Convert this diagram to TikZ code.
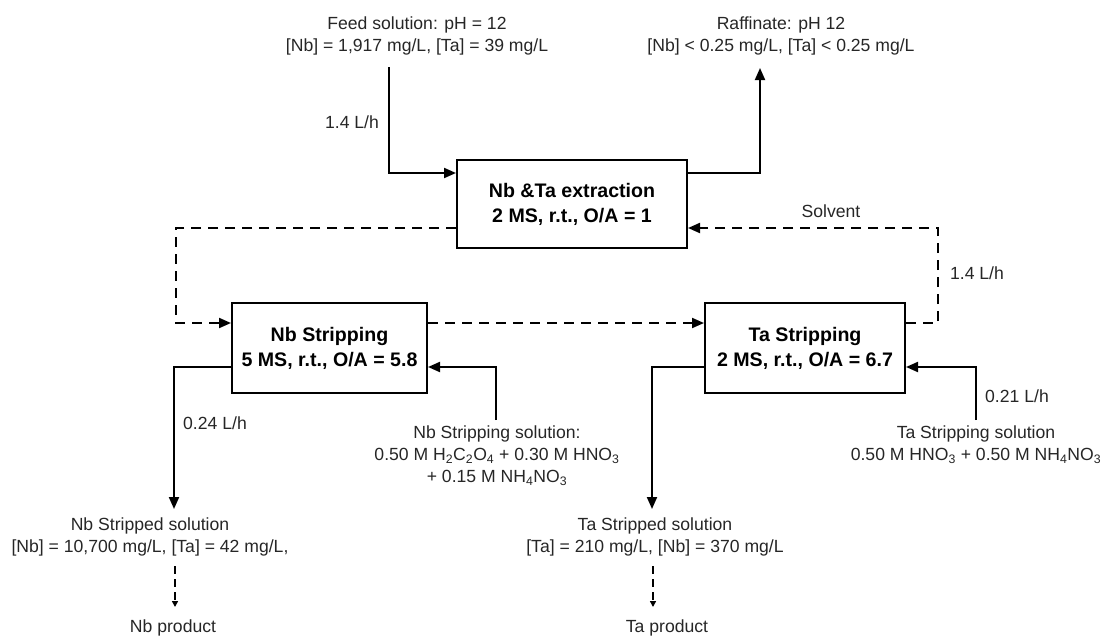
\documentclass[tikz,border=0pt]{standalone}
\usepackage{fontspec}
\setmainfont{Liberation Sans}
\usetikzlibrary{arrows.meta}
\tikzset{
  lbl/.style={inner sep=0pt, align=center, font=\fontsize{17.6}{22}\selectfont, text=black!85},
  procbox/.style={draw, line width=2pt, align=center, inner sep=0pt, font=\fontsize{19.6}{25}\selectfont\bfseries},
  flow/.style={line width=2pt, -{Triangle[length=12pt,width=10pt]}},
  dflow/.style={line width=2pt, dash pattern=on 10pt off 7pt, -{Triangle[length=12pt,width=10pt]}},
  pflow/.style={line width=2pt, dash pattern=on 8pt off 5pt, -{Triangle[length=6pt,width=6pt]}}
}
\begin{document}
\begin{tikzpicture}[x=1pt,y=-1pt]
\useasboundingbox (0,0) rectangle (1102,637);
% boxes
\node[procbox, minimum width=230pt, minimum height=88pt] (ext) at (572,204) {Nb \&Ta extraction\\2 MS, r.t., O/A = 1};
\node[procbox, minimum width=195pt, minimum height=90pt] (nb) at (329.5,348) {Nb Stripping\\5 MS, r.t., O/A = 5.8};
\node[procbox, minimum width=200pt, minimum height=90pt] (ta) at (805,348) {Ta Stripping\\2 MS, r.t., O/A = 6.7};
% labels
\node[lbl] (feed) at (417,36) {Feed solution: pH = 12\\{}[Nb] = 1,917 mg/L, [Ta] = 39 mg/L};
\node[lbl] (raf) at (781,36) {Raffinate: pH 12\\{}[Nb] < 0.25 mg/L, [Ta] < 0.25 mg/L};
\node[lbl] (f1) at (352,122) {1.4 L/h};
\node[lbl] (solv) at (831,211) {Solvent};
\node[lbl] (f2) at (977,273) {1.4 L/h};
\node[lbl] (f3) at (215,423) {0.24 L/h};
\node[lbl] (f4) at (1017,396) {0.21 L/h};
\node[lbl] (nbsol) at (497,455.5) {Nb Stripping solution:\\0.50 M H\textsubscript{2}C\textsubscript{2}O\textsubscript{4} + 0.30 M HNO\textsubscript{3}\\+ 0.15 M NH\textsubscript{4}NO\textsubscript{3}};
\node[lbl] (tasol) at (976,445) {Ta Stripping solution\\0.50 M HNO\textsubscript{3} + 0.50 M NH\textsubscript{4}NO\textsubscript{3}};
\node[lbl] (nbout) at (150,536.5) {Nb Stripped solution\\{}[Nb] = 10,700 mg/L, [Ta] = 42 mg/L,};
\node[lbl] (taout) at (655,536.5) {Ta Stripped solution\\{}[Ta] = 210 mg/L, [Nb] = 370 mg/L};
\node[lbl] (nbprod) at (173,628) {Nb product};
\node[lbl] (taprod) at (667,628) {Ta product};
% coordinates
\coordinate (feedtop) at (389,67);
\coordinate (fc) at (389,173);
\coordinate (rc) at (760,173);
\coordinate (raftop) at (760,68);
\coordinate (sc1) at (938,228);
\coordinate (sc2) at (938,323);
\coordinate (lc1) at (176,228);
\coordinate (lc2) at (176,323);
\coordinate (no1) at (174,367);
\coordinate (no2) at (174,509);
\coordinate (ni1) at (496,420);
\coordinate (ni2) at (496,367);
\coordinate (to1) at (652,367);
\coordinate (to2) at (652,509);
\coordinate (ti1) at (976,420);
\coordinate (ti2) at (976,367);
\coordinate (np1) at (175,566);
\coordinate (np2) at (175,607);
\coordinate (tp1) at (653,566);
\coordinate (tp2) at (653,607);
% connectors
\draw[flow] (feedtop) -- (fc) -- (fc -| ext.west);
\draw[flow] (rc -| ext.east) -- (rc) -- (raftop);
\draw[dflow] (sc2 -| ta.east) -- (sc2) -- (sc1) -- (sc1 -| ext.east);
\draw[dflow] (lc1 -| ext.west) -- (lc1) -- (lc2) -- (lc2 -| nb.west);
\draw[dflow] (lc2 -| nb.east) -- (lc2 -| ta.west);
\draw[flow] (no1 -| nb.west) -- (no1) -- (no2);
\draw[flow] (ni1) -- (ni2) -- (ni2 -| nb.east);
\draw[flow] (to1 -| ta.west) -- (to1) -- (to2);
\draw[flow] (ti1) -- (ti2) -- (ti2 -| ta.east);
\draw[pflow] (np1) -- (np2);
\draw[pflow] (tp1) -- (tp2);
\end{tikzpicture}
\end{document}
